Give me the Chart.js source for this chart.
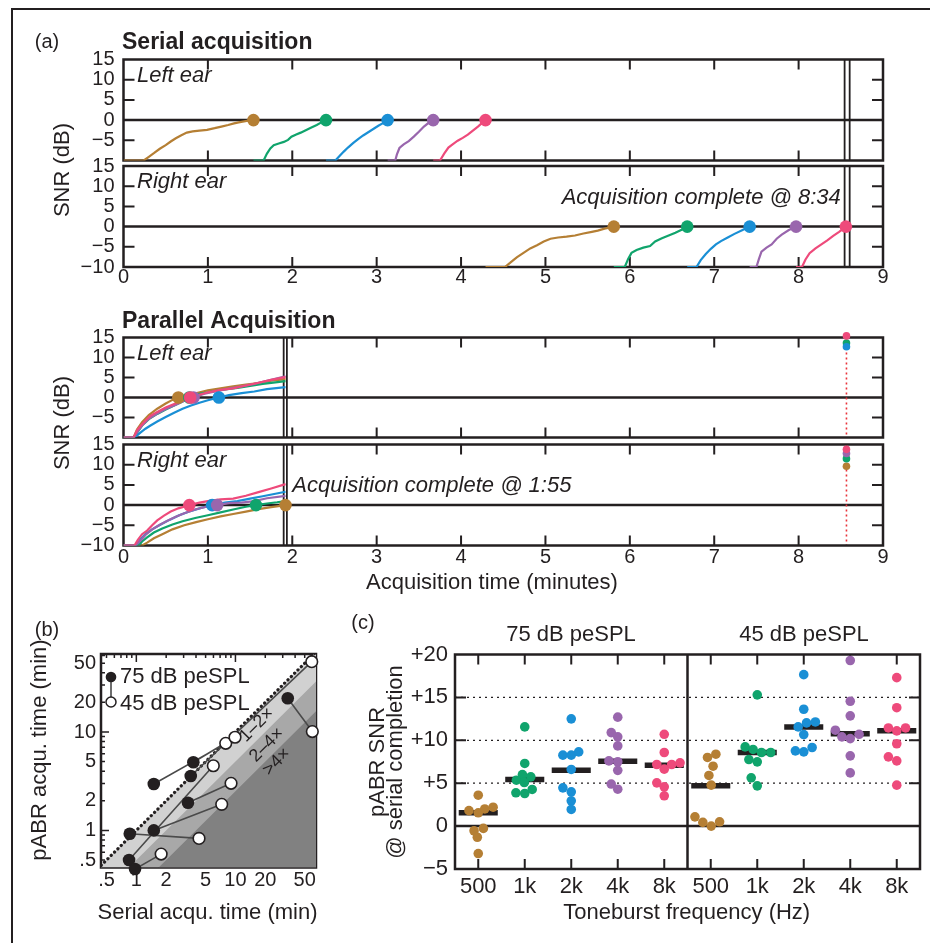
<!DOCTYPE html>
<html>
<head>
<meta charset="utf-8">
<script src="https://cdn.jsdelivr.net/npm/chart.js@4.4.1/dist/chart.umd.min.js"></script>
<style>
  body { margin: 0; background: #fff; }
  #fig { position: relative; width: 930px; height: 943px; overflow: hidden; background: #fff; }
  #fig canvas { position: absolute; }
  .edgeL { position: absolute; left: 11px; top: 8px; width: 2px; height: 935px; background: #231f20; }
  .edgeT { position: absolute; left: 11px; top: 8px; width: 919px; height: 2px; background: #231f20; }
</style>
</head>
<body>
<div id="fig"><div class="edgeL"></div><div class="edgeT"></div></div>
<script>
// ---------- data ----------
const minuteTicks = [0, 1, 2, 3, 4, 5, 6, 7, 8, 9];
const snrTicks = [-10, -5, 0, 5, 10, 15];
const snrTicksUpper = [-5, 0, 5, 10, 15];
const serialDone = 8.567;   // 8:34
const parallelDone = 1.917; // 1:55

// serial acquisition, [minutes, SNR dB]
const serialLeftBrown = [[0,-10],[0.24,-10],[0.3,-9.1],[0.36,-8.2],[0.43,-7.1],[0.5,-6.2],[0.56,-5.3],[0.62,-4.5],[0.68,-3.8],[0.75,-3.1],[0.82,-2.8],[0.9,-2.6],[0.99,-2.4],[1.08,-2.0],[1.16,-1.6],[1.24,-1.2],[1.31,-0.8],[1.38,-0.5],[1.46,-0.2],[1.54,0]];
const serialLeftGreen = [[1.54,-10],[1.66,-10],[1.7,-8.3],[1.74,-7.0],[1.78,-6.2],[1.84,-5.8],[1.9,-5.4],[1.95,-4.9],[1.99,-4.1],[2.04,-3.6],[2.1,-3.1],[2.16,-2.5],[2.22,-1.9],[2.29,-1.2],[2.35,-0.5],[2.40,0]];
const serialLeftBlue = [[2.40,-10],[2.51,-10],[2.56,-8.9],[2.61,-7.8],[2.66,-6.8],[2.72,-5.7],[2.78,-4.7],[2.84,-3.8],[2.9,-3.0],[2.96,-2.2],[3.02,-1.4],[3.08,-0.7],[3.13,0]];
const serialLeftPurple = [[3.13,-10],[3.22,-10],[3.24,-8.5],[3.27,-6.9],[3.32,-6.0],[3.38,-5.2],[3.44,-4.1],[3.5,-2.9],[3.56,-1.6],[3.62,-0.6],[3.67,0]];
const serialLeftPink = [[3.67,-10],[3.75,-10],[3.8,-8.3],[3.85,-6.8],[3.9,-6.0],[3.96,-5.1],[4.02,-4.4],[4.08,-3.6],[4.14,-2.6],[4.2,-1.6],[4.25,-0.7],[4.29,0]];

const serialRightBrown = [[4.29,-10],[4.52,-10],[4.58,-9.0],[4.66,-7.6],[4.74,-6.5],[4.82,-5.4],[4.9,-4.6],[4.98,-3.7],[5.06,-3.0],[5.15,-2.7],[5.25,-2.5],[5.35,-2.2],[5.45,-1.7],[5.55,-1.3],[5.62,-1.0],[5.7,-0.5],[5.81,0]];
const serialRightGreen = [[5.81,-10],[5.94,-10],[5.98,-8.0],[6.02,-6.5],[6.08,-5.8],[6.16,-5.2],[6.24,-4.8],[6.3,-3.7],[6.38,-2.9],[6.46,-2.2],[6.54,-1.5],[6.62,-0.7],[6.68,0]];
const serialRightBlue = [[6.68,-10],[6.79,-10],[6.84,-8.3],[6.9,-6.8],[6.96,-5.5],[7.02,-4.4],[7.08,-3.6],[7.16,-2.7],[7.24,-1.8],[7.33,-0.9],[7.42,0]];
const serialRightPurple = [[7.42,-10],[7.5,-10],[7.53,-8.0],[7.56,-6.2],[7.62,-5.2],[7.68,-4.4],[7.74,-3.0],[7.8,-2.0],[7.88,-0.9],[7.97,0]];
const serialRightPink = [[7.97,-10],[8.04,-10],[8.08,-8.2],[8.13,-6.6],[8.2,-5.4],[8.27,-4.4],[8.34,-3.4],[8.41,-2.3],[8.48,-1.3],[8.56,0]];

// parallel acquisition
const parLeftBrown = [[0,-10],[0.12,-10],[0.16,-8.0],[0.22,-6.2],[0.3,-4.4],[0.4,-2.8],[0.5,-1.5],[0.58,-0.6],[0.65,0],[0.75,0.5],[0.88,1.2],[1.0,1.8],[1.15,2.3],[1.3,2.8],[1.45,3.2],[1.6,3.6],[1.75,4.2],[1.92,4.6]];
const parLeftGreen = [[0,-10],[0.12,-10],[0.17,-8.5],[0.22,-7.0],[0.3,-5.4],[0.4,-4.1],[0.5,-3.0],[0.6,-2.0],[0.7,-1.0],[0.78,0],[0.9,0.9],[1.05,1.5],[1.2,2.0],[1.35,2.4],[1.5,2.9],[1.65,3.4],[1.8,3.8],[1.92,4.1]];
const parLeftBlue = [[0,-10],[0.12,-10],[0.16,-9.5],[0.2,-8.8],[0.26,-7.8],[0.32,-7.0],[0.4,-6.0],[0.5,-4.9],[0.6,-3.8],[0.7,-2.8],[0.8,-2.0],[0.9,-1.3],[1.0,-0.7],[1.13,0],[1.25,0.6],[1.4,1.1],[1.55,1.5],[1.7,2.1],[1.92,2.6]];
const parLeftPurple = [[0,-10],[0.12,-10],[0.17,-8.4],[0.22,-7.0],[0.3,-5.3],[0.4,-4.0],[0.5,-2.9],[0.62,-1.8],[0.72,-0.8],[0.83,0],[0.95,0.9],[1.1,1.6],[1.25,2.2],[1.4,2.8],[1.55,3.4],[1.7,4.2],[1.92,5.3]];
const parLeftPink = [[0,-10],[0.12,-10],[0.16,-8.2],[0.2,-7.2],[0.26,-5.8],[0.32,-4.6],[0.4,-3.6],[0.5,-2.5],[0.6,-1.6],[0.7,-0.8],[0.79,0],[0.9,0.7],[1.0,1.3],[1.15,1.9],[1.3,2.3],[1.45,3.0],[1.6,3.7],[1.75,4.4],[1.92,5.1]];
const parLeftCross = [0.65, 0.78, 1.13, 0.83, 0.79];       // brown, green, blue, purple, pink
const parLeftAtSerial = [null, 13.6, 12.7, null, 15.4];    // SNR at serial completion

const parRightBrown = [[0,-10],[0.22,-10],[0.28,-9.3],[0.36,-8.2],[0.46,-7.2],[0.58,-6.0],[0.72,-5.0],[0.86,-4.2],[1.0,-3.5],[1.15,-2.8],[1.3,-2.2],[1.45,-1.6],[1.6,-1.0],[1.75,-0.5],[1.92,0]];
const parRightGreen = [[0,-10],[0.18,-10],[0.22,-9.0],[0.28,-8.0],[0.36,-6.8],[0.46,-5.8],[0.58,-4.8],[0.7,-4.0],[0.85,-3.2],[1.0,-2.5],[1.15,-1.8],[1.3,-1.1],[1.45,-0.4],[1.57,0],[1.7,0.4],[1.82,0.7],[1.92,1.0]];
const parRightBlue = [[0,-10],[0.15,-10],[0.2,-8.5],[0.26,-7.2],[0.34,-6.0],[0.44,-4.8],[0.55,-3.6],[0.66,-2.5],[0.78,-1.6],[0.92,-0.7],[1.05,0],[1.2,0.6],[1.35,1.0],[1.5,1.6],[1.65,2.2],[1.8,2.8],[1.92,3.3]];
const parRightPurple = [[0,-10],[0.14,-10],[0.2,-8.8],[0.26,-7.4],[0.34,-6.0],[0.42,-5.0],[0.52,-3.9],[0.62,-2.9],[0.72,-2.0],[0.85,-1.1],[0.98,-0.4],[1.11,0],[1.25,0.5],[1.4,0.6],[1.55,1.0],[1.7,1.7],[1.92,2.3]];
const parRightPink = [[0,-10],[0.13,-10],[0.17,-8.6],[0.22,-7.2],[0.28,-6.3],[0.34,-5.0],[0.4,-3.8],[0.48,-2.6],[0.56,-1.6],[0.65,-0.8],[0.78,0],[0.9,0.6],[1.0,1.0],[1.15,1.4],[1.3,1.6],[1.45,2.3],[1.6,3.2],[1.75,4.1],[1.92,5.2]];
const parRightCross = [1.92, 1.57, 1.05, 1.11, 0.78];
const parRightAtSerial = [9.6, 11.5, null, 12.8, 13.8];

// panel b: acquisition times in minutes (75 dB -> 45 dB pairs)
const bTickValues = [0.5, 1, 2, 5, 10, 20, 50];
const bMinorTicks = [0.5, 0.6, 0.7, 0.8, 0.9, 2, 3, 4, 5, 6, 7, 8, 9, 20, 30, 40, 50, 60];
const bMajorTicks = [1, 10];
const serial75 = [1.50, 3.76, 3.54, 0.844, 1.50, 3.32, 0.858, 0.97, 33.7];
const pabr75 = [2.96, 4.92, 3.57, 0.50, 1.0, 1.91, 0.926, 0.405, 22.0];
const serial45 = [7.98, 9.9, 58.9, 5.98, 7.27, 9.03, 4.29, 1.78, 59.7];
const pabr45 = [7.67, 8.84, 51.8, 4.54, 1.84, 3.01, 0.83, 0.575, 10.1];
const ratioX = [0.3, 100];
const ratio1 = [0.3, 100];
const ratio2 = [0.15, 50];
const ratio4 = [0.075, 25];

// panel c: pABR SNR at serial completion, with beeswarm offsets
const toneLabels = ['500', '1k', '2k', '4k', '8k'];
const cTicksY = [-5, 0, 5, 10, 15, 20];
const c75_500 = [3.6, 1.8, 1.55, 2.0, 2.2, -0.54, -0.27, -1.3, -3.2];
const c75_500_off = [0, -0.2, 0, 0.14, 0.32, -0.09, 0.11, -0.02, 0];
const c75_1k = [11.56, 7.3, 6.0, 5.35, 5.74, 5.08, 3.88, 3.8, 4.27];
const c75_1k_off = [0, 0, -0.05, -0.18, 0.13, -0.01, -0.19, 0, 0.16];
const c75_2k = [12.5, 8.27, 8.27, 8.65, 6.6, 4.46, 4.0, 2.95, 1.94];
const c75_2k_off = [0, -0.18, 0, 0.16, 0, -0.18, 0, 0, 0];
const c75_4k = [12.7, 10.9, 10.4, 9.35, 7.6, 7.5, 6.5, 4.9, 4.3];
const c75_4k_off = [0, -0.14, 0, 0, -0.19, 0, 0, -0.14, 0];
const c75_8k = [10.7, 8.58, 7.18, 6.64, 7.18, 7.37, 5.04, 4.58, 3.53];
const c75_8k_off = [0, 0, -0.16, 0, 0.16, 0.34, -0.16, 0, 0];
const c45_500 = [8.0, 8.38, 6.98, 5.9, 4.77, 1.08, 0.43, 0.0, 0.5];
const c45_500_off = [-0.07, 0.11, 0.05, -0.04, 0.01, -0.34, -0.17, 0.01, 0.19];
const c45_1k = [15.3, 9.23, 8.93, 8.58, 8.58, 7.76, 7.49, 5.63, 4.69];
const c45_1k_off = [0, -0.26, -0.09, 0.09, 0.29, -0.18, 0, -0.13, 0];
const c45_2k = [17.65, 13.62, 11.56, 12.03, 12.14, 10.67, 8.77, 8.65, 9.16];
const c45_2k_off = [0, 0, -0.12, 0.06, 0.25, 0, -0.18, 0, 0.18];
const c45_4k = [19.3, 14.55, 12.85, 11.18, 10.4, 10.2, 10.7, 8.19, 6.2];
const c45_4k_off = [0, 0, 0, -0.32, -0.18, 0, 0.19, 0, 0];
const c45_8k = [17.3, 13.8, 11.44, 11.1, 11.44, 9.6, 8.07, 7.6, 4.77];
const c45_8k_off = [0, 0, -0.18, 0, 0.19, 0, -0.18, 0, 0];
const c75Median = [1.55, 5.43, 6.52, 7.57, 7.1];
const c45Median = [4.69, 8.58, 11.56, 10.76, 11.1];

// ---------- styles ----------
const INK = '#231f20';
const FONT = "'Liberation Sans', Arial, sans-serif";
const toneColors = ['#b57f34', '#10a46c', '#1a8fd5', '#9966ad', '#ee4a7b'];
Chart.defaults.font.family = FONT;
Chart.defaults.color = INK;

const fmt = v => (v < 0 ? '\u2212' + Math.abs(v) : String(v));
const pts = arr => arr.map(([x, y]) => ({ x, y }));

// frame, inward ticks, reference lines and texts
const decor = {
  id: 'decor',
  beforeDatasetsDraw(chart, args, o) {
    const { ctx, chartArea: a, scales: { x, y } } = chart;
    ctx.save();
    (o.hLines || []).forEach(h => {
      const py = y.getPixelForValue(h.v);
      ctx.beginPath();
      ctx.lineWidth = h.w; ctx.strokeStyle = h.color || INK; ctx.setLineDash(h.dash || []);
      ctx.moveTo(a.left, py); ctx.lineTo(a.right, py); ctx.stroke();
    });
    (o.vLines || []).forEach(v => {
      const px = x.getPixelForValue(v.v);
      ctx.beginPath();
      ctx.lineWidth = v.w; ctx.strokeStyle = v.color || INK; ctx.setLineDash(v.dash || []);
      ctx.moveTo(px, a.top); ctx.lineTo(px, a.bottom); ctx.stroke();
    });
    ctx.setLineDash([]);
    ctx.strokeStyle = INK;
    ctx.lineWidth = o.tickW || 2;
    (o.xTicks || []).forEach(t => {
      const px = x.getPixelForValue(t.v);
      ctx.beginPath();
      ctx.moveTo(px, a.top); ctx.lineTo(px, a.top + t.len);
      ctx.moveTo(px, a.bottom); ctx.lineTo(px, a.bottom - t.len);
      ctx.stroke();
    });
    (o.yTicks || []).forEach(t => {
      const py = y.getPixelForValue(t.v);
      ctx.beginPath();
      ctx.moveTo(a.left, py); ctx.lineTo(a.left + t.len, py);
      ctx.moveTo(a.right, py); ctx.lineTo(a.right - t.len, py);
      ctx.stroke();
    });
    ctx.lineWidth = o.frame || 2.5;
    ctx.strokeRect(a.left, a.top, a.right - a.left, a.bottom - a.top);
    ctx.restore();
  },
  afterDatasetsDraw(chart, args, o) {
    const { ctx, scales: { x, y } } = chart;
    ctx.save();
    (o.shapes || []).forEach(s => {
      if (s.line) {
        ctx.beginPath(); ctx.lineWidth = s.w; ctx.strokeStyle = s.color;
        ctx.moveTo(s.line[0] - o.off[0], s.line[1] - o.off[1]);
        ctx.lineTo(s.line[2] - o.off[0], s.line[3] - o.off[1]);
        ctx.stroke();
      } else {
        ctx.beginPath();
        ctx.arc(s.dot[0] - o.off[0], s.dot[1] - o.off[1], s.r, 0, Math.PI * 2);
        ctx.fillStyle = s.fill; ctx.fill();
        if (s.stroke) { ctx.lineWidth = 1.5; ctx.strokeStyle = s.stroke; ctx.stroke(); }
      }
    });
    (o.texts || []).forEach(t => {
      let px, py;
      if (t.data) { px = x.getPixelForValue(t.x); py = y.getPixelForValue(t.y); }
      else { px = t.x - o.off[0]; py = t.y - o.off[1]; }
      ctx.save();
      ctx.translate(px, py);
      if (t.rot) ctx.rotate(t.rot * Math.PI / 180);
      ctx.font = t.font + ' ' + FONT;
      ctx.fillStyle = INK;
      ctx.textAlign = t.align || 'center';
      ctx.textBaseline = t.base || 'middle';
      ctx.fillText(t.t, 0, 0);
      ctx.restore();
    });
    ctx.restore();
  }
};

const fig = document.getElementById('fig');

// plot = chart area in page px, box = canvas in page px
function makeChart(plot, box, config) {
  const cv = document.createElement('canvas');
  const w = box[2] - box[0], h = box[3] - box[1];
  cv.width = w; cv.height = h;
  cv.style.left = box[0] + 'px'; cv.style.top = box[1] + 'px';
  cv.style.width = w + 'px'; cv.style.height = h + 'px';
  fig.appendChild(cv);
  const pad = [plot[0] - box[0], plot[1] - box[1], box[2] - plot[2], box[3] - plot[3]];
  const o = config.options;
  o.responsive = false;
  o.animation = false;
  o.devicePixelRatio = 1;
  o.layout = { autoPadding: false, padding: { left: 0, top: pad[1], right: pad[2], bottom: 0 } };
  o.scales.x.afterFit = s => { s.height = pad[3]; };
  o.scales.y.afterFit = s => { s.width = pad[0]; };
  o.plugins.legend = { display: false };
  o.plugins.tooltip = { enabled: false };
  o.plugins.decor.off = [box[0], box[1]];
  config.plugins = [decor];
  return new Chart(cv, config);
}

function minuteAxis(showLabels, padding) {
  return {
    type: 'linear', min: 0, max: 9,
    afterBuildTicks: s => { s.ticks = minuteTicks.map(v => ({ value: v })); },
    ticks: { display: showLabels, autoSkip: false, maxRotation: 0, padding: padding, font: { size: 20, lineHeight: 1 } },
    grid: { display: false, drawTicks: false }, border: { display: false }
  };
}
function snrAxis(ticks) {
  return {
    type: 'linear', min: -10, max: 15,
    afterBuildTicks: s => { s.ticks = ticks.map(v => ({ value: v })); },
    ticks: { autoSkip: false, padding: 9, font: { size: 20, lineHeight: 1 }, callback: v => fmt(v) },
    grid: { display: false, drawTicks: false }, border: { display: false }
  };
}

// curves: array in tone order (brown, green, blue, purple, pink); pink drawn on top
function curveSets(curves, endDot) {
  return curves.map((c, i) => ({
    data: pts(c), borderColor: toneColors[i], borderWidth: 2.2, tension: 0,
    pointRadius: endDot ? (ctx => (ctx.dataIndex === c.length - 1 ? 6.3 : 0)) : 0,
    pointBackgroundColor: toneColors[i], pointBorderWidth: 0,
    order: 10 - i
  }));
}
function dotSet(xs, ys, r) {
  return {
    data: xs.map((t, i) => ({ x: t, y: ys[i] })), showLine: false,
    pointRadius: r, pointBackgroundColor: toneColors, pointBorderWidth: 0, clip: false, order: 0
  };
}

const earXTicks = [1, 2, 3, 4, 5, 6, 7, 8].map(v => ({ v, len: 10 }));
const earYTicks = [-5, 5, 10].map(v => ({ v, len: 11 }));
const atSerial = [serialDone, serialDone, serialDone, serialDone, serialDone];
const zeros = [0, 0, 0, 0, 0];

// ---------- panel a: serial acquisition ----------
makeChart([123.5, 59.5, 883, 160.5], [14, 12, 930, 190], {
  type: 'line',
  data: { datasets: curveSets([serialLeftBrown, serialLeftGreen, serialLeftBlue, serialLeftPurple, serialLeftPink], true) },
  options: {
    scales: { x: minuteAxis(false, 0), y: snrAxis(snrTicksUpper) },
    plugins: { decor: {
      hLines: [{ v: 0, w: 2.5 }],
      vLines: [{ v: 8.545, w: 1.8 }, { v: 8.605, w: 1.8 }],
      xTicks: earXTicks, yTicks: earYTicks,
      texts: [
        { t: '(a)', x: 47, y: 42, font: '20px' },
        { t: 'Serial acquisition', x: 122, y: 49, font: 'bold 23px', align: 'left', base: 'alphabetic' },
        { t: 'Left ear', data: true, x: 0.16, y: 11, font: 'italic 22px', align: 'left' }
      ]
    } }
  }
});

makeChart([123.5, 166, 883, 267], [14, 100, 930, 300], {
  type: 'line',
  data: { datasets: curveSets([serialRightBrown, serialRightGreen, serialRightBlue, serialRightPurple, serialRightPink], true) },
  options: {
    scales: { x: minuteAxis(true, 0), y: snrAxis(snrTicks) },
    plugins: { decor: {
      hLines: [{ v: 0, w: 2.5 }],
      vLines: [{ v: 8.545, w: 1.8 }, { v: 8.605, w: 1.8 }],
      xTicks: earXTicks, yTicks: earYTicks,
      texts: [
        { t: 'Right ear', data: true, x: 0.16, y: 11, font: 'italic 22px', align: 'left' },
        { t: 'Acquisition complete @ 8:34', data: true, x: 8.5, y: 7.0, font: 'italic 22px', align: 'right' },
        { t: 'SNR (dB)', x: 63, y: 170, font: '22px', rot: -90 }
      ]
    } }
  }
});

// ---------- panel a: parallel acquisition ----------
const parVLines = [
  { v: 1.898, w: 1.8 }, { v: 1.936, w: 1.8 },
  { v: serialDone, w: 1.6, color: '#e8333a', dash: [2, 3] }
];

makeChart([123.5, 337.5, 883, 437.5], [14, 300, 930, 470], {
  type: 'line',
  data: { datasets: [dotSet(parLeftCross, zeros, 6.3), dotSet(atSerial, parLeftAtSerial, 3.8)]
    .concat(curveSets([parLeftBrown, parLeftGreen, parLeftBlue, parLeftPurple, parLeftPink], false)) },
  options: {
    scales: { x: minuteAxis(false, 0), y: snrAxis(snrTicksUpper) },
    plugins: { decor: {
      hLines: [{ v: 0, w: 2.5 }], vLines: parVLines,
      xTicks: earXTicks, yTicks: earYTicks,
      texts: [
        { t: 'Parallel Acquisition', x: 122, y: 328, font: 'bold 23px', align: 'left', base: 'alphabetic' },
        { t: 'Left ear', data: true, x: 0.16, y: 11, font: 'italic 22px', align: 'left' }
      ]
    } }
  }
});

makeChart([123.5, 444.5, 883, 545.5], [14, 360, 930, 600], {
  type: 'line',
  data: { datasets: [dotSet(parRightCross, zeros, 6.3), dotSet(atSerial, parRightAtSerial, 3.8)]
    .concat(curveSets([parRightBrown, parRightGreen, parRightBlue, parRightPurple, parRightPink], false)) },
  options: {
    scales: { x: minuteAxis(true, 2), y: snrAxis(snrTicks) },
    plugins: { decor: {
      hLines: [{ v: 0, w: 2.5 }], vLines: parVLines,
      xTicks: earXTicks, yTicks: earYTicks,
      texts: [
        { t: 'Right ear', data: true, x: 0.16, y: 11, font: 'italic 22px', align: 'left' },
        { t: 'Acquisition complete @ 1:55', data: true, x: 2.0, y: 4.7, font: 'italic 22px', align: 'left' },
        { t: 'SNR (dB)', x: 63, y: 423, font: '22px', rot: -90 },
        { t: 'Acquisition time (minutes)', x: 492, y: 583, font: '22px' }
      ]
    } }
  }
});

// ---------- panel b: serial vs parallel times ----------
function logAxis(min, max, padding) {
  return {
    type: 'logarithmic', min: min, max: max,
    afterBuildTicks: s => { s.ticks = bTickValues.map(v => ({ value: v })); },
    ticks: { autoSkip: false, maxRotation: 0, padding: padding, font: { size: 20, lineHeight: 1 },
      callback: v => (v === 0.5 ? '.5' : String(v)) },
    grid: { display: false, drawTicks: false }, border: { display: false }
  };
}
const pairLine = [];
serial75.forEach((s, i) => {
  pairLine.push({ x: s, y: pabr75[i] }, { x: serial45[i], y: pabr45[i] }, { x: serial45[i], y: null });
});
const bTicks = bMinorTicks.map(v => ({ v, len: 4 })).concat(bMajorTicks.map(v => ({ v, len: 8 })));

makeChart([101, 654, 316, 867.5], [14, 612, 340, 943], {
  type: 'line',
  data: { datasets: [
    { data: ratioX.map((v, i) => ({ x: v, y: ratio1[i] })), fill: 'start', backgroundColor: '#d1d1d1',
      borderColor: INK, borderWidth: 3.2, borderDash: [0.1, 4.6], borderCapStyle: 'round', pointRadius: 0, order: 10 },
    { data: ratioX.map((v, i) => ({ x: v, y: ratio2[i] })), fill: 'start', backgroundColor: '#a8a8a8',
      borderWidth: 0, pointRadius: 0, order: 9 },
    { data: ratioX.map((v, i) => ({ x: v, y: ratio4[i] })), fill: 'start', backgroundColor: '#818181',
      borderWidth: 0, pointRadius: 0, order: 8 },
    { data: pairLine, borderColor: '#4a4a4a', borderWidth: 1.6, pointRadius: 0, spanGaps: false, order: 3 },
    { data: serial75.map((s, i) => ({ x: s, y: pabr75[i] })), showLine: false, pointRadius: 6.3,
      pointBackgroundColor: INK, pointBorderColor: INK, pointBorderWidth: 0, clip: false, order: 2 },
    { data: serial45.map((s, i) => ({ x: s, y: pabr45[i] })), showLine: false, pointRadius: 5.8,
      pointBackgroundColor: '#ffffff', pointBorderColor: INK, pointBorderWidth: 1.6, clip: false, order: 1 }
  ] },
  options: {
    scales: { x: logAxis(0.44, 65, 3), y: logAxis(0.42, 62, 5) },
    plugins: { decor: {
      frame: 2.5, tickW: 1.5,
      xTicks: bTicks, yTicks: bTicks,
      shapes: [
        { line: [111, 677, 111, 702], w: 1.6, color: '#4a4a4a' },
        { dot: [111, 677], r: 5.3, fill: INK },
        { dot: [111, 702], r: 5, fill: '#ffffff', stroke: INK }
      ],
      texts: [
        { t: '(b)', x: 47, y: 630, font: '20px' },
        { t: '75 dB peSPL', x: 120, y: 677, font: '22px', align: 'left' },
        { t: '45 dB peSPL', x: 120, y: 704, font: '22px', align: 'left' },
        { t: '1\u20132\u00d7', data: true, x: 16.4, y: 11.8, font: '18px', rot: -45 },
        { t: '2\u20134\u00d7', data: true, x: 20.7, y: 7.38, font: '18px', rot: -45 },
        { t: '>4\u00d7', data: true, x: 26.1, y: 4.99, font: '18px', rot: -45 },
        { t: 'pABR acqu. time (min)', x: 40, y: 750, font: '22px', rot: -90 },
        { t: 'Serial acqu. time (min)', x: 207.5, y: 913, font: '22px' }
      ]
    } }
  }
});

// ---------- panel c: SNR at serial completion ----------
const cGroups = [
  [c75_500, c75_500_off], [c75_1k, c75_1k_off], [c75_2k, c75_2k_off], [c75_4k, c75_4k_off], [c75_8k, c75_8k_off],
  [c45_500, c45_500_off], [c45_1k, c45_1k_off], [c45_2k, c45_2k_off], [c45_4k, c45_4k_off], [c45_8k, c45_8k_off]
];
const cDots = cGroups.map(([vals, offs], g) => ({
  data: vals.map((v, i) => ({ x: g + offs[i], y: v })), showLine: false,
  pointRadius: 4.8, pointBackgroundColor: toneColors[g % 5], pointBorderWidth: 0, clip: false, order: 1
}));
const medianLine = [];
c75Median.concat(c45Median).forEach((m, g) => {
  medianLine.push({ x: g - 0.42, y: m }, { x: g + 0.42, y: m }, { x: g + 0.42, y: null });
});

makeChart([455, 654.5, 920, 869], [340, 612, 930, 943], {
  type: 'line',
  data: { datasets: cDots.concat([
    { data: medianLine, borderColor: INK, borderWidth: 5.5, borderCapStyle: 'butt', pointRadius: 0, spanGaps: false, order: 5 }
  ]) },
  options: {
    scales: {
      x: { type: 'linear', min: -0.5, max: 9.5,
        afterBuildTicks: s => { s.ticks = minuteTicks.map(v => ({ value: v })); },
        ticks: { autoSkip: false, maxRotation: 0, padding: 7, font: { size: 22, lineHeight: 1 },
          callback: v => toneLabels[v % 5] },
        grid: { display: false, drawTicks: false }, border: { display: false } },
      y: { type: 'linear', min: -5, max: 20,
        afterBuildTicks: s => { s.ticks = cTicksY.map(v => ({ value: v })); },
        ticks: { autoSkip: false, padding: 7, font: { size: 22, lineHeight: 1 },
          callback: v => (v > 0 ? '+' + v : fmt(v)) },
        grid: { display: false, drawTicks: false }, border: { display: false } }
    },
    plugins: { decor: {
      hLines: [{ v: 5, w: 1.3, dash: [2, 4] }, { v: 10, w: 1.3, dash: [2, 4] }, { v: 15, w: 1.3, dash: [2, 4] }, { v: 0, w: 2.5 }],
      vLines: [{ v: 4.5, w: 2.5 }],
      xTicks: minuteTicks.map(v => ({ v, len: 10 })),
      yTicks: [5, 10, 15].map(v => ({ v, len: 11 })),
      texts: [
        { t: '(c)', x: 363, y: 623, font: '20px' },
        { t: '75 dB peSPL', x: 571, y: 635, font: '22px' },
        { t: '45 dB peSPL', x: 804, y: 635, font: '22px' },
        { t: 'pABR SNR', x: 384, y: 762, font: '22px', rot: -90, base: 'alphabetic' },
        { t: '@ serial completion', x: 402, y: 762, font: '22px', rot: -90, base: 'alphabetic' },
        { t: 'Toneburst frequency (Hz)', x: 686.7, y: 913, font: '22px' }
      ]
    } }
  }
});
</script>
</body>
</html>
